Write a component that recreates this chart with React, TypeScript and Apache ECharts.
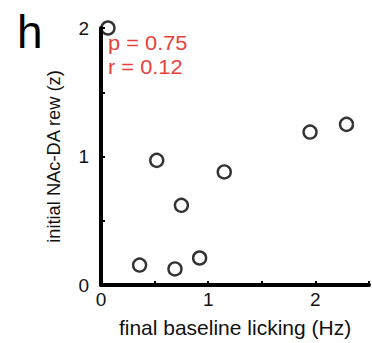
import React, { useEffect, useRef } from "react";
import * as echarts from "echarts";

const xValues = [0.065, 0.52, 0.75, 1.15, 1.95, 2.29, 0.36, 0.69, 0.92];
const yValues = [2.0, 0.97, 0.62, 0.88, 1.19, 1.25, 0.155, 0.125, 0.21];
const xTickLabels = ["0", "1", "2"];
const yTickLabels = ["0", "1", "2"];
const statLines = ["p = 0.75", "r = 0.12"];

export default function App() {
  const ref = useRef<HTMLDivElement>(null);
  useEffect(() => {
    const chart = echarts.init(ref.current!, null, { renderer: "svg" });
    const font = "Liberation Sans, Arial, sans-serif";
    const fmt = (labels: string[]) => (v: number) => {
      const s = String(v);
      return labels.includes(s) ? s : "";
    };
    chart.setOption({
      animation: false,
      textStyle: { fontFamily: font },
      grid: { left: 101, top: 28, right: 0, bottom: 55, containLabel: false },
      xAxis: {
        type: "value",
        min: 0,
        max: 2.5,
        interval: 0.5,
        name: "final baseline licking (Hz)",
        nameLocation: "middle",
        nameGap: 32,
        nameTextStyle: { fontSize: 21, color: "#111", fontFamily: font },
        axisLine: { show: true, lineStyle: { color: "#000", width: 4 } },
        axisTick: { show: true, inside: true, length: 4, lineStyle: { color: "#000", width: 2 } },
        axisLabel: { formatter: fmt(xTickLabels), fontSize: 19, color: "#111", margin: 5, fontFamily: font },
        splitLine: { show: false },
      },
      yAxis: {
        type: "value",
        min: 0,
        max: 2,
        interval: 0.5,
        name: "initial NAc-DA rew (z)",
        nameLocation: "middle",
        nameGap: 39,
        nameTextStyle: { fontSize: 18.3, color: "#111", fontFamily: font },
        axisLine: { show: true, lineStyle: { color: "#000", width: 4 } },
        axisTick: { show: true, inside: true, length: 4, lineStyle: { color: "#000", width: 2 } },
        axisLabel: { formatter: fmt(yTickLabels), fontSize: 19, color: "#111", margin: 12, fontFamily: font },
        splitLine: { show: false },
      },
      series: [
        {
          type: "scatter",
          data: xValues.map((x, i) => [x, yValues[i]]),
          symbol: "circle",
          symbolSize: 13,
          clip: false,
          itemStyle: { color: "rgba(255,255,255,0)", borderColor: "#000", borderWidth: 2.4 },
          z: 5,
        },
      ],
      graphic: [
        { type: "text", left: 17, top: 9, style: { text: "h", fontSize: 46, fill: "#000", fontFamily: font } },
        {
          type: "text",
          x: 108,
          y: 31,
          scaleX: 1.12,
          style: {
            text: statLines.join("\n"),
            fontSize: 19.5,
            lineHeight: 24,
            fill: "#e8413c",
            fontFamily: font,
            verticalAlign: "top",
            align: "left",
          },
        },
      ],
    });
    return () => chart.dispose();
  }, []);
  return (
    <div
      ref={ref}
      style={{ position: "fixed", left: 0, top: 0, width: 372, height: 343, background: "#fff" }}
    />
  );
}
